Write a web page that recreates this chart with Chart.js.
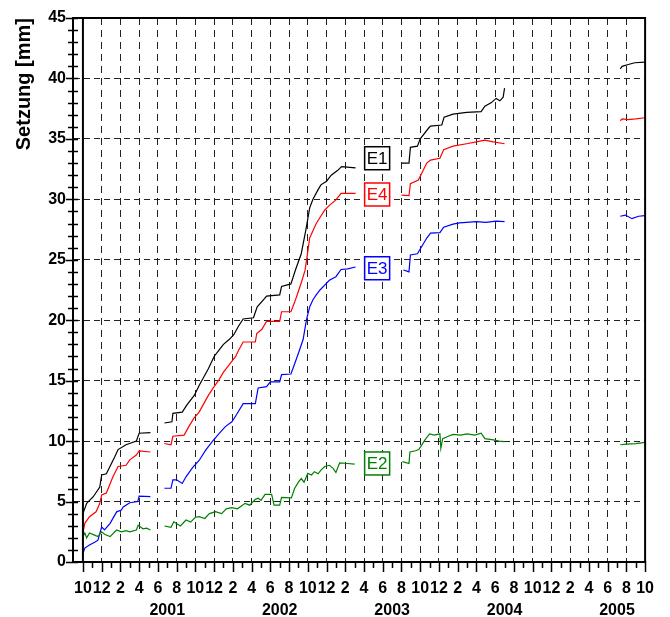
<!DOCTYPE html>
<html>
<head>
<meta charset="utf-8">
<script src="https://cdn.jsdelivr.net/npm/chart.js@4.4.0/dist/chart.umd.min.js"></script>
<style>
  body { margin: 0; background: #fff; }
  #wrap { width: 670px; height: 617px; }
</style>
</head>
<body>
<div id="wrap"><canvas id="setzung" width="670" height="617"></canvas></div>
<script>
// x = months since Oct 2000, y = Setzung in mm; null = gap in the record
const e1 = [
  [0,4.0],[0.4,4.85],[1.1,5.4],[1.8,6.2],[2.0,7.2],[2.5,7.3],[3.4,8.7],[3.75,9.3],[4.6,9.7],[5.7,10.0],[6.0,10.65],[7.2,10.7],
  null,
  [8.7,11.5],[9.5,11.6],[9.6,12.3],[10.6,12.4],[11.1,13.0],[11.9,13.8],[12.4,14.6],[12.9,15.3],[13.4,16.0],[14.0,17.0],[14.5,17.5],
  [15.0,18.0],[15.6,18.4],[16.1,18.8],[16.6,19.5],[17.1,20.1],[18.2,20.2],[18.6,21.1],[19.4,21.8],[19.6,22.0],[21.0,22.1],[21.2,22.8],
  [22.2,23.0],[22.7,24.2],[23.3,25.5],[23.8,27.5],[24.2,29.3],[24.55,30.0],[25.1,30.8],[25.4,31.2],[26.0,31.5],[26.5,32.0],[27.2,32.4],
  [27.6,32.7],[29.1,32.6],
  null,
  [34.0,33.0],[34.8,33.0],[34.95,34.3],[35.7,34.4],[36.0,35.0],[36.9,35.9],[37.1,36.06],[38.3,36.15],[38.55,36.8],[39.5,37.05],
  [40.95,37.2],[42.5,37.25],[42.9,37.7],[43.6,38.0],[44.1,38.35],[44.5,38.15],[44.85,38.45],[45.0,39.2],
  null,
  [57.35,40.8],[57.55,41.0],[58.2,41.15],[58.9,41.3],[60,41.35]
];
const e4 = [
  [0,2.4],[0.2,3.2],[0.7,3.75],[1.4,4.15],[1.8,4.85],[2.0,5.55],[2.5,5.7],[3.2,7.05],[3.75,7.9],[4.6,8.0],[5.0,8.45],[5.7,8.85],[6.0,9.2],[7.2,9.1],
  null,
  [8.7,9.8],[9.4,9.7],[9.6,10.4],[10.8,10.5],[11.3,11.2],[11.85,11.9],[12.4,12.4],[12.9,13.1],[13.4,13.8],[14.0,14.5],[14.5,15.05],
  [15.0,15.7],[15.6,16.3],[16.3,17.0],[16.6,17.5],[17.1,18.2],[18.4,18.2],[18.55,18.9],[19.1,19.25],[19.6,19.9],[21.0,19.9],[21.2,20.7],
  [22.2,20.7],[22.6,21.5],[23.0,22.4],[23.3,23.1],[23.7,24.1],[23.95,25.4],[24.2,26.8],[24.55,27.4],[24.9,28.0],[25.3,28.5],[25.8,29.1],
  [26.3,29.5],[27.0,29.95],[27.55,30.5],[29.1,30.5],
  null,
  [34.0,30.35],[34.8,30.3],[34.95,31.3],[35.8,31.6],[36.7,33.0],[37.1,33.25],[38.1,33.4],[38.5,34.1],[39.5,34.4],[40.95,34.6],
  [42.0,34.75],[42.9,34.9],[43.8,34.75],[45.0,34.6],
  null,
  [57.35,36.5],[57.55,36.65],[58.2,36.6],[59.0,36.65],[60,36.75]
];
const e3 = [
  [0,0.7],[0.2,1.15],[0.7,1.4],[1.3,1.65],[1.6,1.8],[2.0,2.9],[2.3,2.65],[2.9,3.2],[3.6,4.15],[4.1,4.3],[4.3,4.55],[5.0,4.9],[5.85,5.0],[6.0,5.45],[7.2,5.4],
  null,
  [8.7,6.1],[9.4,6.1],[9.6,6.8],[10.0,6.8],[10.6,6.5],[11.0,7.05],[11.7,7.8],[12.4,8.4],[13.1,9.25],[13.8,9.95],[14.5,10.6],[15.2,11.2],
  [15.9,11.6],[16.4,12.2],[17.1,13.1],[18.4,13.1],[18.7,14.4],[19.6,14.5],[20.0,14.9],[21.0,14.9],[21.2,15.5],[22.2,15.55],[22.6,16.4],
  [23.1,17.5],[23.5,18.4],[23.85,20.0],[24.2,21.1],[24.55,21.7],[24.9,22.1],[25.3,22.5],[25.8,22.9],[26.3,23.3],[27.0,23.6],[27.55,24.2],
  [28.25,24.25],[29.1,24.4],
  null,
  [34.2,24.15],[34.8,24.0],[34.95,25.4],[35.7,25.5],[36.7,26.8],[37.1,27.2],[38.1,27.25],[38.5,27.7],[39.5,27.95],[40.2,28.05],
  [42.0,28.15],[43.0,28.1],[44.1,28.2],[45.0,28.15],
  null,
  [57.35,28.6],[57.9,28.7],[58.6,28.4],[59.3,28.6],[60,28.65]
];
const e2 = [
  [0,2.1],[0.2,2.4],[0.4,2.0],[0.7,2.4],[1.3,2.2],[1.6,2.1],[2.0,2.5],[2.3,2.3],[2.9,2.1],[3.6,2.65],[4.1,2.5],[4.6,2.6],[5.0,2.5],
  [5.7,2.65],[5.9,3.05],[6.4,2.75],[6.8,2.8],[7.2,2.65],
  null,
  [8.7,2.98],[9.4,2.87],[9.7,3.33],[10.4,2.98],[11.0,3.47],[11.5,3.3],[12.0,3.7],[12.4,3.75],[13.0,3.6],[13.5,4.0],[14.15,4.16],
  [14.8,4.0],[15.3,4.4],[15.9,4.5],[16.5,4.4],[17.3,4.85],[17.8,4.7],[18.4,5.18],[18.7,5.27],[19.0,5.1],[19.44,5.6],[20.14,5.6],
  [20.4,4.7],[21.0,4.7],[21.2,5.35],[22.25,5.3],[22.6,6.1],[23.0,6.6],[23.3,6.9],[23.6,6.6],[24.0,7.33],[24.4,7.2],[24.7,7.47],
  [25.1,7.3],[25.4,7.6],[25.8,7.9],[26.3,8.0],[26.7,7.75],[27.0,7.4],[27.4,8.2],[28.25,8.15],[29.0,8.1],
  null,
  [34.1,8.3],[34.8,8.15],[34.9,9.1],[35.5,9.2],[35.85,9.3],[36.5,10.1],[37.0,10.6],[37.5,10.5],[38.1,10.6],[38.2,9.4],[38.4,10.2],
  [39.0,10.4],[39.5,10.55],[40.3,10.5],[41.0,10.6],[41.8,10.5],[42.5,10.65],[42.9,10.2],[43.8,10.1],[44.4,10.0],[45.0,9.95],
  null,
  [57.35,9.7],[58.0,9.75],[59.0,9.8],[60,9.9]
];

const seriesNames = ['E1', 'E4', 'E3', 'E2'];
const yearLabels = ['2001', '2002', '2003', '2004', '2005'];
const yTitle = 'Setzung [mm]';

const colors = ['#000000', '#ff0000', '#0000ff', '#008000'];
// where the name boxes sit, in chart units (month, mm)
const tagPos = [[31.4, 33.4], [31.4, 30.4], [31.4, 24.3], [31.4, 8.15]];

function toPoints(arr) {
  return arr.map(function (p, i) {
    if (p) return {x: p[0], y: p[1]};
    return {x: arr[i - 1][0] + 0.5, y: null};
  });
}

function monthOf(m) { return ((9 + m) % 12) + 1; }

const frame = {
  id: 'frame',
  afterDraw(chart) {
    const ctx = chart.ctx, a = chart.chartArea;
    const xs = chart.scales.x, ys = chart.scales.y;
    ctx.save();
    ctx.strokeStyle = '#000';
    ctx.lineWidth = 2;
    ctx.beginPath();
    ctx.moveTo(a.left, a.top); ctx.lineTo(a.right, a.top); ctx.lineTo(a.right, a.bottom);
    const x0 = xs.getPixelForValue(0);
    ctx.moveTo(x0, a.top); ctx.lineTo(x0, a.bottom);
    ctx.stroke();

    ctx.lineWidth = 1.5;
    ctx.beginPath();
    for (let m = 0; m <= 60; m++) {
      const px = Math.round(xs.getPixelForValue(m)) + 0.5;
      ctx.moveTo(px, a.bottom - 1); ctx.lineTo(px, a.bottom + (m % 2 ? 6 : 10));
    }
    for (let v = 0; v <= 45; v++) {
      const py = Math.round(ys.getPixelForValue(v)) + 0.5;
      ctx.moveTo(a.left - (v % 5 ? 5 : 7), py); ctx.lineTo(a.left + 5, py);
    }
    ctx.stroke();

    // name boxes
    ctx.font = '17px "Liberation Sans", Arial, sans-serif';
    ctx.textAlign = 'center';
    ctx.textBaseline = 'middle';
    ctx.lineWidth = 1.5;
    for (let i = 0; i < seriesNames.length; i++) {
      const cx = xs.getPixelForValue(tagPos[i][0]);
      const cy = ys.getPixelForValue(tagPos[i][1]);
      ctx.fillStyle = '#fff';
      ctx.fillRect(cx - 12.5, cy - 11.5, 25, 23);
      ctx.strokeStyle = colors[i];
      ctx.strokeRect(cx - 12.5, cy - 11.5, 25, 23);
      ctx.fillStyle = colors[i];
      ctx.fillText(seriesNames[i], cx, cy + 1);
    }
    ctx.restore();
  }
};

Chart.defaults.font.family = '"Liberation Sans", Arial, sans-serif';
Chart.defaults.color = '#000';

const allSeries = [e1, e4, e3, e2];
const datasets = [];
for (let i = allSeries.length - 1; i >= 0; i--) {
  datasets.push({
    label: seriesNames[i],
    data: toPoints(allSeries[i]),
    borderColor: colors[i],
    borderWidth: 1.2,
    pointRadius: 0,
    tension: 0,
    spanGaps: false
  });
}

new Chart(document.getElementById('setzung'), {
  type: 'line',
  data: { datasets: datasets },
  options: {
    responsive: false,
    animation: false,
    layout: { padding: { top: 18, right: 20, left: 0, bottom: 0 } },
    plugins: { legend: { display: false }, tooltip: { enabled: false } },
    scales: {
      x: {
        type: 'linear',
        min: -1.06,
        max: 60,
        afterBuildTicks: function (scale) {
          const t = [];
          for (let m = 0; m <= 60; m++) t.push({value: m});
          scale.ticks = t;
        },
        afterFit: function (scale) { scale.height = 55; },
        grid: {
          drawTicks: false,
          lineWidth: 1,
          color: function (c) {
            const v = c.tick && c.tick.value;
            return (v > 0 && v < 60 && v % 2 === 0) ? '#222' : 'rgba(0,0,0,0)';
          }
        },
        border: { display: true, color: '#000', width: 2, dash: [7, 5] },
        ticks: {
          autoSkip: false,
          maxRotation: 0,
          padding: 16,
          font: { size: 16, weight: 'bold', lineHeight: 1.35 },
          callback: function (value) {
            const mon = monthOf(value);
            if (mon % 2 === 0) return String(mon);
            if (mon === 7) return ['', yearLabels[(value - 9) / 12]];
            return '';
          }
        }
      },
      y: {
        min: 0,
        max: 45,
        afterFit: function (scale) { scale.width = 73; },
        grid: {
          drawTicks: false,
          lineWidth: 1,
          color: function (c) {
            const v = c.tick && c.tick.value;
            return (v > 0 && v < 45 && v % 5 === 0) ? '#222' : 'rgba(0,0,0,0)';
          }
        },
        border: { display: true, color: '#000', width: 2, dash: [6, 4] },
        ticks: {
          stepSize: 1,
          autoSkip: false,
          padding: 7,
          font: { size: 16, weight: 'bold' },
          callback: function (value) { return value % 5 === 0 ? String(value) : ''; }
        },
        title: {
          display: true,
          text: yTitle,
          align: 'end',
          padding: { top: 12, bottom: 0 },
          font: { size: 20, weight: 'bold' }
        }
      }
    }
  },
  plugins: [frame]
});
</script>
</body>
</html>
